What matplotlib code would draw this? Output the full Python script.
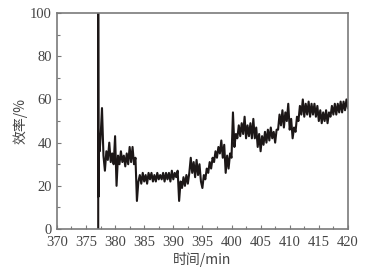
import numpy as np
import matplotlib
matplotlib.use("Agg")
import matplotlib.pyplot as plt
from matplotlib.ticker import MultipleLocator

# start-up transient: jump to full scale then settle
lead_t = [377.1, 377.1, 377.15, 377.25, 377.35]
lead_y = [0, 100, 15, 44, 36]

# efficiency readings, one row per minute, sampled every 0.25 min from 377.5
SAMPLE_START = 377.5
SAMPLE_STEP = 0.25
efficiency = [
    42, 56,                  # 377.5 - 377.75
    34, 27, 36, 32,          # 378
    40, 31, 35, 30,          # 379
    43, 20, 34, 30,          # 380
    36, 31, 34, 29,          # 381
    35, 30, 38, 31,          # 382
    38, 30, 33, 13,          # 383
    22, 25, 21, 26,          # 384
    22, 25, 21, 26,          # 385
    23, 26, 22, 25,          # 386
    22, 26, 23, 25,          # 387
    23, 26, 22, 26,          # 388
    23, 26, 22, 27,          # 389
    23, 26, 24, 27,          # 390
    13, 22, 19, 24,          # 391
    20, 25, 21, 26,          # 392
    33, 26, 31, 24,          # 393
    32, 25, 30, 22,          # 394
    19, 25, 23, 28,          # 395
    26, 31, 28, 33,          # 396
    31, 36, 33, 38,          # 397
    35, 41, 33, 39,          # 398
    26, 34, 28, 35,          # 399
    33, 54, 38, 44,          # 400
    42, 48, 43, 49,          # 401
    44, 52, 42, 48,          # 402
    43, 49, 42, 51,          # 403
    42, 47, 38, 44,          # 404
    36, 43, 39, 45,          # 405
    40, 46, 41, 47,          # 406
    42, 45, 40, 46,          # 407
    46, 53, 48, 55,          # 408
    47, 54, 50, 58,          # 409
    46, 51, 42, 47,          # 410
    45, 52, 50, 57,          # 411
    53, 60, 52, 58,          # 412
    53, 59, 52, 58,          # 413
    53, 58, 52, 57,          # 414
    50, 55, 49, 54,          # 415
    50, 55, 49, 54,          # 416
    52, 57, 53, 58,          # 417
    53, 58, 54, 59,          # 418
    54, 59, 55, 60,          # 419
    56,                      # 420
]

x_ticks = [370, 375, 380, 385, 390, 395, 400, 405, 410, 415, 420]
y_ticks = [0, 20, 40, 60, 80, 100]

SPINE = "#7a7a7a"
TEXT = "#444444"
LINE = "#1c1717"

t = SAMPLE_START + SAMPLE_STEP * np.arange(len(efficiency))
times = np.concatenate([lead_t, t])
values = np.concatenate([lead_y, efficiency])

fig = plt.figure(figsize=(3.67, 2.72), dpi=100)
ax = fig.add_axes([0.155, 0.158, 0.793, 0.794])

ax.plot(times, values, color=LINE, lw=1.5)

ax.set_xlim(370, 420)
ax.set_ylim(0, 100)
ax.set_xticks(x_ticks)
ax.set_yticks(y_ticks)
ax.xaxis.set_minor_locator(MultipleLocator(2.5))
ax.yaxis.set_minor_locator(MultipleLocator(10))
ax.tick_params(which="both", direction="in", colors=SPINE, labelcolor=TEXT,
               top=False, right=False)
ax.tick_params(which="major", length=3, width=0.8)
ax.tick_params(which="minor", length=2, width=0.8)
ax.tick_params(axis="x", pad=5)
for lab in ax.get_xticklabels() + ax.get_yticklabels():
    lab.set_family("Liberation Serif")
    lab.set_fontsize(10.5)
for s in ax.spines.values():
    s.set_color(SPINE)
    s.set_linewidth(1.2)

ax.set_xlabel("时间/min", family=["Noto Sans CJK SC", "DejaVu Sans"],
              fontsize=10, color=TEXT, labelpad=2)
ax.set_ylabel("效率/%", family=["Noto Sans CJK SC", "DejaVu Sans"],
              fontsize=10, color=TEXT, labelpad=2)

fig.savefig("out.png", dpi=100)
